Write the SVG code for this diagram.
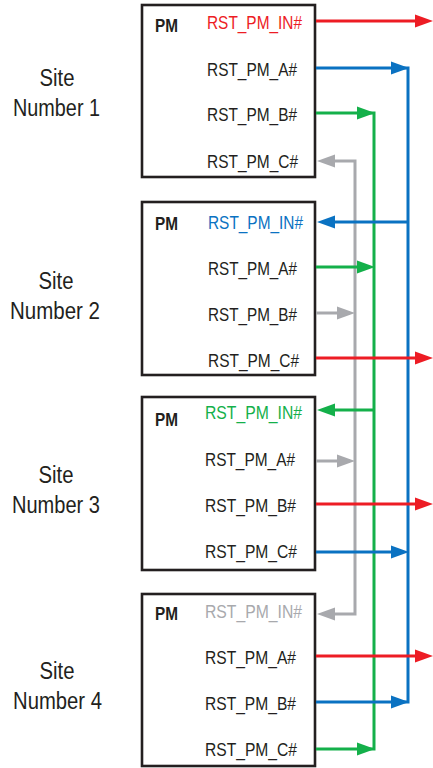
<svg xmlns="http://www.w3.org/2000/svg" xmlns:xlink="http://www.w3.org/1999/xlink" width="433" height="768" viewBox="0 0 433 768">
<defs>
<style>
.box{fill:#fff;stroke:#231f20;stroke-width:2.6}
.sig{font-family:"Liberation Sans",Arial,sans-serif;font-size:19px;fill:#231f20}
.pm{font-family:"Liberation Sans",Arial,sans-serif;font-size:18px;font-weight:bold;fill:#231f20}
.site{font-family:"Liberation Sans",Arial,sans-serif;font-size:23px;fill:#231f20;text-anchor:middle}
.w{fill:none;stroke-width:3;stroke-linejoin:miter}
.r{stroke:#ed1c24}.b{stroke:#0a72c2}.g{stroke:#14b04a}.k{stroke:#a8a9ad}
.tr{fill:#ed1c24}.tb{fill:#0a72c2}.tg{fill:#14b04a}.tk{fill:#a8a9ad}
</style>
<path id="ah" d="M0,0 L-18,-6.5 L-18,6.5 Z"/>
</defs>
<rect width="433" height="768" fill="#fff"/>
<g id="labels">
<text class="site" x="57" y="86" textLength="35" lengthAdjust="spacingAndGlyphs">Site</text>
<text class="site" x="56.5" y="116" textLength="87" lengthAdjust="spacingAndGlyphs">Number 1</text>
<text class="site" x="56" y="289" textLength="35" lengthAdjust="spacingAndGlyphs">Site</text>
<text class="site" x="55" y="319" textLength="90" lengthAdjust="spacingAndGlyphs">Number 2</text>
<text class="site" x="56" y="483" textLength="35" lengthAdjust="spacingAndGlyphs">Site</text>
<text class="site" x="56" y="513" textLength="88" lengthAdjust="spacingAndGlyphs">Number 3</text>
<text class="site" x="57" y="679" textLength="35" lengthAdjust="spacingAndGlyphs">Site</text>
<text class="site" x="57.5" y="709" textLength="89" lengthAdjust="spacingAndGlyphs">Number 4</text>
</g>
<g id="site1">
<rect class="box" x="142" y="5" width="173" height="172"/>
<text class="pm" x="155" y="32" textLength="23" lengthAdjust="spacingAndGlyphs">PM</text>
<text class="sig tr" x="207" y="29" textLength="95" lengthAdjust="spacingAndGlyphs">RST_PM_IN#</text>
<text class="sig" x="207" y="76" textLength="90" lengthAdjust="spacingAndGlyphs">RST_PM_A#</text>
<text class="sig" x="207" y="121" textLength="90" lengthAdjust="spacingAndGlyphs">RST_PM_B#</text>
<text class="sig" x="207" y="168" textLength="91" lengthAdjust="spacingAndGlyphs">RST_PM_C#</text>
</g>
<g id="site2">
<rect class="box" x="142" y="202" width="173" height="173"/>
<text class="pm" x="155" y="230" textLength="23" lengthAdjust="spacingAndGlyphs">PM</text>
<text class="sig tb" x="208" y="229" textLength="95" lengthAdjust="spacingAndGlyphs">RST_PM_IN#</text>
<text class="sig" x="208" y="275" textLength="89" lengthAdjust="spacingAndGlyphs">RST_PM_A#</text>
<text class="sig" x="208" y="321" textLength="89" lengthAdjust="spacingAndGlyphs">RST_PM_B#</text>
<text class="sig" x="208" y="367" textLength="91" lengthAdjust="spacingAndGlyphs">RST_PM_C#</text>
</g>
<g id="site3">
<rect class="box" x="142" y="397" width="173" height="173"/>
<text class="pm" x="155" y="426" textLength="23" lengthAdjust="spacingAndGlyphs">PM</text>
<text class="sig tg" x="205" y="419" textLength="97" lengthAdjust="spacingAndGlyphs">RST_PM_IN#</text>
<text class="sig" x="205" y="466" textLength="90" lengthAdjust="spacingAndGlyphs">RST_PM_A#</text>
<text class="sig" x="205" y="512" textLength="91" lengthAdjust="spacingAndGlyphs">RST_PM_B#</text>
<text class="sig" x="205" y="558" textLength="92" lengthAdjust="spacingAndGlyphs">RST_PM_C#</text>
</g>
<g id="site4">
<rect class="box" x="142" y="594" width="173" height="172"/>
<text class="pm" x="155" y="620" textLength="23" lengthAdjust="spacingAndGlyphs">PM</text>
<text class="sig tk" x="205" y="618" textLength="97" lengthAdjust="spacingAndGlyphs">RST_PM_IN#</text>
<text class="sig" x="205" y="664" textLength="91" lengthAdjust="spacingAndGlyphs">RST_PM_A#</text>
<text class="sig" x="205" y="710" textLength="91" lengthAdjust="spacingAndGlyphs">RST_PM_B#</text>
<text class="sig" x="205" y="756" textLength="92" lengthAdjust="spacingAndGlyphs">RST_PM_C#</text>
</g>
<g id="connectors">
<path class="w k" d="M325,161 H355 V614 H325"/>
<path class="w g" d="M316,113 H374 V749 H316"/>
<path class="w b" d="M316,68 H408 V702 H316"/>
<path class="w k" d="M316,313 H350 M316,461 H350"/>
<path class="w g" d="M316,267 H368 M325,410 H374"/>
<path class="w b" d="M325,222 H408 M316,552 H402"/>
<path class="w r" d="M316,21 H425 M316,358 H425 M316,504 H425 M316,656 H425"/>
<g class="tk">
<use xlink:href="#ah" transform="translate(317,161) scale(-1,1)"/>
<use xlink:href="#ah" transform="translate(317,614) scale(-1,1)"/>
<use xlink:href="#ah" transform="translate(355,313)"/>
<use xlink:href="#ah" transform="translate(355,461)"/>
</g>
<g class="tg">
<use xlink:href="#ah" transform="translate(375,113)"/>
<use xlink:href="#ah" transform="translate(375,267)"/>
<use xlink:href="#ah" transform="translate(317,410) scale(-1,1)"/>
<use xlink:href="#ah" transform="translate(375,749)"/>
</g>
<g class="tb">
<use xlink:href="#ah" transform="translate(409,68)"/>
<use xlink:href="#ah" transform="translate(317,222) scale(-1,1)"/>
<use xlink:href="#ah" transform="translate(409,552)"/>
<use xlink:href="#ah" transform="translate(409,702)"/>
</g>
<g class="tr">
<use xlink:href="#ah" transform="translate(433,21)"/>
<use xlink:href="#ah" transform="translate(433,358)"/>
<use xlink:href="#ah" transform="translate(433,504)"/>
<use xlink:href="#ah" transform="translate(433,656)"/>
</g>
</g>
</svg>
